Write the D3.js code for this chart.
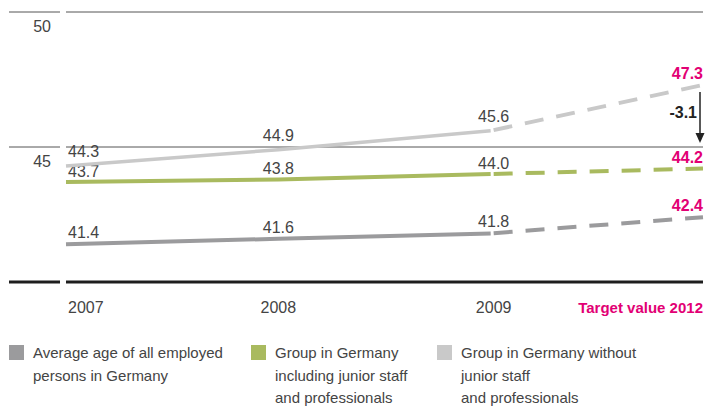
<!DOCTYPE html>
<html>
<head>
<meta charset="utf-8">
<script src="https://cdn.jsdelivr.net/npm/d3@7"></script>
<style>
  html, body { margin: 0; padding: 0; background: #fff; }
  svg { display: block; font-family: "Liberation Sans", Arial, sans-serif; }
</style>
</head>
<body>
<svg id="chart" width="719" height="407"></svg>
<script>
// ---- data ----
const categories = ["2007", "2008", "2009", "2012"];
const xLabels = ["2007", "2008", "2009", "Target value 2012"];
const allEmployed = [41.4, 41.6, 41.8, 42.4];
const groupIncl = [43.7, 43.8, 44.0, 44.2];
const groupExcl = [44.3, 44.9, 45.6, 47.3];
const yTicks = [50, 45, 40];
const yTickLabels = ["50", "45", ""];
const targetDiffLabel = "-3.1";
const legendLabels = [
  ["Average age of all employed", "persons in Germany"],
  ["Group in Germany", "including junior staff", "and professionals"],
  ["Group in Germany without", "junior staff", "and professionals"]
];

// ---- styles ----
const colors = { dark: "#9b9b9d", green: "#a9ba5f", light: "#c9c9c9" };
const textColor = "#444";
const magenta = "#e20074";

const svg = d3.select("#chart");
const x = d3.scalePoint().domain(categories).range([66, 703]);
const y = d3.scaleLinear().domain([40, 50]).range([282, 12]);

// grid lines (two segments each)
yTicks.forEach((t, i) => {
  const isBase = t === 40;
  [[9, 60], [66, 703]].forEach(([a, b]) => {
    svg.append("line")
      .attr("x1", a).attr("x2", b)
      .attr("y1", y(t)).attr("y2", y(t))
      .attr("stroke", isBase ? "#1e1e1e" : "#555")
      .attr("stroke-width", isBase ? 3 : 1);
  });
  if (yTickLabels[i]) {
    svg.append("text")
      .attr("x", 51).attr("y", y(t) + 20)
      .attr("text-anchor", "end")
      .attr("font-size", 16).attr("fill", textColor)
      .text(yTickLabels[i]);
  }
});

const series = [
  { values: allEmployed, color: colors.dark, width: 4, labelGap: 6 },
  { values: groupIncl, color: colors.green, width: 4, labelGap: 5.5 },
  { values: groupExcl, color: colors.light, width: 3.5, labelGap: 9 }
];

const line = d3.line().x(d => x(d.c)).y(d => y(d.v));

series.forEach(s => {
  const pts = categories.map((c, i) => ({ c, v: s.values[i] }));
  // solid part 2007-2009
  svg.append("path")
    .attr("d", line(pts.slice(0, 3)))
    .attr("fill", "none").attr("stroke", s.color)
    .attr("stroke-width", s.width);
  // dashed part 2009-2012
  svg.append("path")
    .attr("d", line(pts.slice(2)))
    .attr("fill", "none").attr("stroke", s.color)
    .attr("stroke-width", 4)
    .attr("stroke-dasharray", "19,13")
    .attr("stroke-dashoffset", -3);
  // labels
  pts.forEach((p, i) => {
    const last = i === categories.length - 1;
    const anchor = i === 0 ? "start" : (last ? "end" : "middle");
    const dx = i === 0 ? 2 : (i === 2 ? 3 : 0);
    svg.append("text")
      .attr("x", x(p.c) + dx)
      .attr("y", y(p.v) - (last ? 6 : s.labelGap))
      .attr("text-anchor", anchor)
      .attr("font-size", 16)
      .attr("font-weight", last ? "bold" : "normal")
      .attr("fill", last ? magenta : textColor)
      .text(p.v.toFixed(1));
  });
});

// arrow for target difference
const ax = x("2012") - 3;
const ay1 = y(groupExcl[3]) + 7;
const ay2 = y(45) - 4;
svg.append("line")
  .attr("x1", ax).attr("x2", ax)
  .attr("y1", ay1).attr("y2", ay2 - 8)
  .attr("stroke", "#222").attr("stroke-width", 1.5);
svg.append("path")
  .attr("d", `M${ax - 4.5},${ay2 - 10} L${ax + 4.5},${ay2 - 10} L${ax},${ay2} Z`)
  .attr("fill", "#222");
svg.append("text")
  .attr("x", ax - 3).attr("y", (ay1 + ay2) / 2 + 1)
  .attr("text-anchor", "end")
  .attr("font-size", 16).attr("font-weight", "bold")
  .attr("fill", "#222")
  .text(targetDiffLabel);

// x labels
categories.forEach((c, i) => {
  const last = i === categories.length - 1;
  svg.append("text")
    .attr("x", x(c) + (i === 0 ? 2 : (i === 2 ? 3 : 0)))
    .attr("y", 313)
    .attr("text-anchor", i === 0 ? "start" : (last ? "end" : "middle"))
    .attr("font-size", last ? 15 : 16)
    .attr("font-weight", last ? "bold" : "normal")
    .attr("fill", last ? magenta : textColor)
    .text(xLabels[i]);
});

// legend
const legendX = [9, 251, 437];
const legendColors = [colors.dark, colors.green, colors.light];
legendLabels.forEach((lines, i) => {
  svg.append("rect")
    .attr("x", legendX[i]).attr("y", 345)
    .attr("width", 15).attr("height", 15)
    .attr("fill", legendColors[i]);
  const t = svg.append("text")
    .attr("font-size", 15).attr("fill", textColor);
  lines.forEach((l, j) => {
    t.append("tspan")
      .attr("x", legendX[i] + 24)
      .attr("y", 358 + j * 22.5)
      .text(l);
  });
});
</script>
</body>
</html>
